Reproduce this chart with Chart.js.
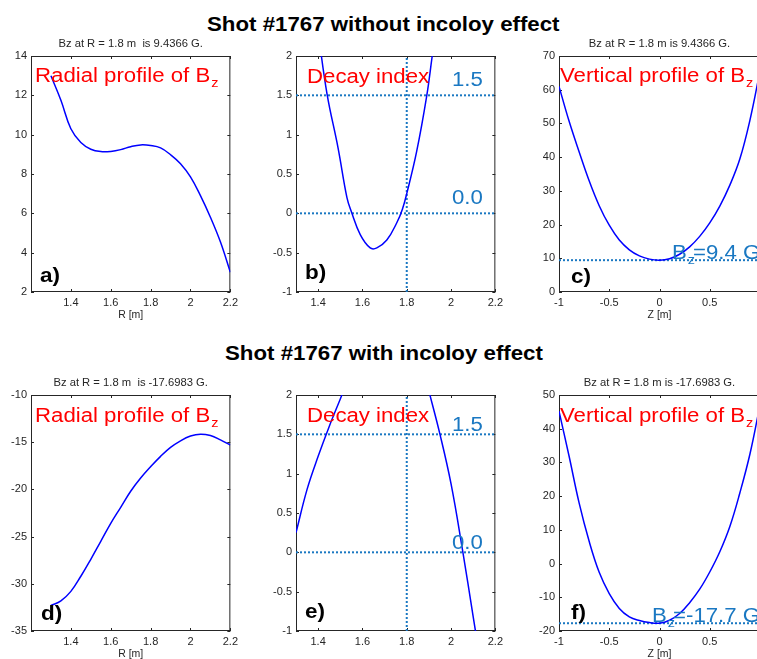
<!DOCTYPE html>
<html>
<head>
<meta charset="utf-8">
<title>Shot #1767 Bz profiles</title>
<script src="https://cdn.jsdelivr.net/npm/chart.js@4"></script>
<style>
  html, body { margin: 0; padding: 0; background: #fff; overflow: hidden; }
  body { width: 757px; height: 659px; position: relative; }
  .heading {
    position: absolute; left: 5px; width: 757px; text-align: center;
    font: bold 21px Arial, "Liberation Sans", sans-serif; line-height: 24px; color: #000;
  }
  .heading span { display: inline-block; transform: scaleX(1.06); }
  canvas { position: absolute; }
</style>
</head>
<body>
<div class="heading" style="top:12px"><span>Shot #1767 without incoloy effect</span></div>
<div class="heading" style="top:341px"><span>Shot #1767 with incoloy effect</span></div>

<canvas id="pa" width="242" height="288" style="left:0px;top:34px"></canvas>
<canvas id="pb" width="242" height="288" style="left:265px;top:34px"></canvas>
<canvas id="pc" width="242" height="288" style="left:528px;top:34px"></canvas>
<canvas id="pd" width="242" height="288" style="left:0px;top:373px"></canvas>
<canvas id="pe" width="242" height="288" style="left:265px;top:373px"></canvas>
<canvas id="pf" width="242" height="288" style="left:528px;top:373px"></canvas>

<script>
// radial grid (m) for the Bz radial profiles
const rGrid = [1.30, 1.35, 1.40, 1.45, 1.50, 1.55, 1.60, 1.65, 1.70, 1.75, 1.80, 1.85, 1.90, 1.95, 2.00, 2.05, 2.10, 2.15, 2.20];
const bzRadialNoIncoloy = [13.0, 11.75, 10.3, 9.6, 9.26, 9.14, 9.15, 9.24, 9.39, 9.48, 9.45, 9.33, 8.98, 8.52, 7.85, 6.9, 5.8, 4.55, 3.0];
const bzRadialIncoloy = [-32.3, -31.8, -30.8, -29.2, -27.4, -25.5, -23.6, -21.9, -20.2, -18.8, -17.6, -16.5, -15.55, -14.85, -14.35, -14.15, -14.3, -14.75, -15.3];

// decay index n(R)
const decayRNoIncoloy = [1.40, 1.44, 1.49, 1.53, 1.55, 1.59, 1.635, 1.665, 1.71, 1.755, 1.78, 1.80, 1.845, 1.89, 1.915, 1.94];
const decayNoIncoloy = [2.3, 1.52, 0.83, 0.2, 0.02, -0.27, -0.44, -0.44, -0.34, -0.12, 0.05, 0.25, 0.79, 1.49, 2.0, 2.5];
const decayRIncoloy = [1.30, 1.35, 1.40, 1.45, 1.50, 1.55, 1.60, 1.70, 1.80, 1.85, 1.90, 1.95, 2.00, 2.05, 2.10, 2.15];
const decayIncoloy = [0.25, 0.80, 1.22, 1.60, 1.95, 2.3, 2.6, 3.0, 3.0, 2.6, 2.05, 1.50, 0.87, 0.06, -0.82, -1.7];

// vertical grid (m) for the Bz vertical profiles at R = 1.8 m
const zGrid = [-1.0, -0.9, -0.8, -0.7, -0.6, -0.5, -0.4, -0.3, -0.2, -0.1, 0, 0.1, 0.2, 0.3, 0.4, 0.5, 0.6, 0.7, 0.8, 0.9, 1.0];
const bzVerticalNoIncoloy = [61.0, 50.7, 41.6, 33.0, 25.6, 19.8, 15.4, 12.5, 10.7, 9.75, 9.44, 9.85, 11.2, 13.4, 16.5, 20.5, 25.5, 31.7, 39.5, 51.0, 65.5];
const bzVerticalIncoloy = [45.2, 31.9, 18.0, 6.6, -2.6, -8.9, -13.3, -15.8, -16.9, -17.5, -17.7, -16.8, -14.8, -11.6, -7.6, -2.5, 3.5, 11.0, 21.0, 32.5, 47.0];

// reference values
const rMid = 1.8;
const bzMid = [9.4366, -17.6983];
const decayLevels = [1.5, 0.0];

// axis ticks
const rTicks = [1.4, 1.6, 1.8, 2, 2.2];
const zTicks = [-1, -0.5, 0, 0.5, 1];
const decayTicks = [-1, -0.5, 0, 0.5, 1, 1.5, 2];
const bzTicksA = [2, 4, 6, 8, 10, 12, 14];
const bzTicksC = [0, 10, 20, 30, 40, 50, 60, 70];
const bzTicksD = [-35, -30, -25, -20, -15, -10];
const bzTicksF = [-20, -10, 0, 10, 20, 30, 40, 50];

const AXIS = '#262626';
const CURVE = '#0000ff';
const DOT = '#1a78c2';
const RED = '#ff0000';
const FAMILY = 'Arial, "Liberation Sans", sans-serif';
const SX = 1.11;

Chart.defaults.font.family = FAMILY;
Chart.defaults.color = AXIS;
Chart.defaults.animation = false;

function stretched(ctx, str, x, y, font, color, sx, align) {
  ctx.save();
  ctx.font = font;
  ctx.fillStyle = color;
  ctx.textAlign = align || 'left';
  ctx.textBaseline = 'alphabetic';
  ctx.translate(x, y);
  ctx.scale(sx, 1);
  ctx.fillText(str, 0, 0);
  const w = ctx.measureText(str).width * sx;
  ctx.restore();
  return w;
}

// [main, subscript, tail] e.g. ['B', 'z', '=9.4 G']
function withSub(ctx, parts, x, y, color) {
  let cx = x;
  cx += stretched(ctx, parts[0], cx, y, '20px ' + FAMILY, color, SX);
  if (parts[1]) cx += stretched(ctx, parts[1], cx + 1, y + 5, '13px ' + FAMILY, color, SX);
  if (parts[2]) stretched(ctx, parts[2], cx - 1, y, '20px ' + FAMILY, color, SX);
}

function decorPlugin(p) {
  return {
    id: 'decor',
    beforeDatasetsDraw(chart) {
      const {ctx, chartArea: ca, scales: {x, y}} = chart;
      ctx.save();
      ctx.strokeStyle = AXIS;
      ctx.lineWidth = 1;
      ctx.strokeRect(ca.left + 0.5, ca.top + 0.5, ca.width - 1, ca.height - 1);
      // inward tick marks on all four sides
      ctx.beginPath();
      x.ticks.forEach(t => {
        const px = Math.round(x.getPixelForValue(t.value)) + 0.5;
        ctx.moveTo(px, ca.bottom); ctx.lineTo(px, ca.bottom - 3);
        ctx.moveTo(px, ca.top); ctx.lineTo(px, ca.top + 3);
      });
      y.ticks.forEach(t => {
        const py = Math.round(y.getPixelForValue(t.value)) + 0.5;
        ctx.moveTo(ca.left, py); ctx.lineTo(ca.left + 3, py);
        ctx.moveTo(ca.right, py); ctx.lineTo(ca.right - 3, py);
      });
      ctx.stroke();
      ctx.restore();
    },
    afterDatasetsDraw(chart) {
      const {ctx, chartArea: ca, scales: {y}} = chart;
      if (p.subtitle) {
        stretched(ctx, p.subtitle, (ca.left + ca.right) / 2, ca.top - 9,
          '10.5px ' + FAMILY, AXIS, 1.07, 'center');
      }
      withSub(ctx, p.heading, ca.left + p.headAt[0], ca.top + p.headAt[1], RED);
      p.marks.forEach(m => {
        withSub(ctx, m.parts, ca.left + m.dx, y.getPixelForValue(m.value) + m.dy, DOT);
      });
      stretched(ctx, p.letter, ca.left + p.letterAt[0], ca.top + p.letterAt[1],
        'bold 21px ' + FAMILY, '#000', 1.07);
    }
  };
}

function makePanel(id, p) {
  const datasets = [{
    data: p.xs.map((x, i) => ({x, y: p.ys[i]})),
    borderColor: CURVE,
    borderWidth: 1.5,
    pointRadius: 0,
    tension: 0.4,
    fill: false
  }];
  const dotted = {borderColor: DOT, borderWidth: 2, borderDash: [2, 2], pointRadius: 0, tension: 0, fill: false};
  (p.hLines || []).forEach(v => datasets.push(Object.assign({
    data: [{x: p.xRange[0], y: v}, {x: p.xRange[1], y: v}]
  }, dotted)));
  (p.vLines || []).forEach(v => datasets.push(Object.assign({
    data: [{x: v, y: p.yRange[0]}, {x: v, y: p.yRange[1]}]
  }, dotted)));

  const tickFont = {size: 11};
  new Chart(document.getElementById(id), {
    type: 'line',
    data: {datasets},
    options: {
      responsive: false,
      animation: false,
      layout: {padding: {top: 22, right: 10, bottom: 0, left: 0}},
      plugins: {legend: {display: false}, tooltip: {enabled: false}},
      scales: {
        x: {
          type: 'linear',
          min: p.xRange[0],
          max: p.xRange[1],
          afterBuildTicks: s => { s.ticks = p.xTicks.map(v => ({value: v})); },
          afterFit: s => { s.height = 30; },
          grid: {display: false, drawTicks: false},
          border: {display: false},
          ticks: {padding: 4, maxRotation: 0, autoSkip: false, font: tickFont, color: AXIS,
                  callback: v => String(v)},
          title: {display: !!p.xTitle, text: p.xTitle || '', font: {size: 10.5}, color: AXIS,
                  padding: {top: 0, bottom: 1}}
        },
        y: {
          type: 'linear',
          min: p.yRange[0],
          max: p.yRange[1],
          afterBuildTicks: s => { s.ticks = p.yTicks.map(v => ({value: v})); },
          afterFit: s => { s.width = 31; },
          grid: {display: false, drawTicks: false},
          border: {display: false},
          ticks: {padding: 4, autoSkip: false, font: tickFont, color: AXIS,
                  callback: v => String(v)}
        }
      }
    },
    plugins: [decorPlugin(p)]
  });
}

const decayMarks = dy => decayLevels.map(v => ({value: v, parts: [v.toFixed(1)], dx: 156, dy}));
const bzMark = (v, dx) => [{value: v, parts: ['B', 'z', '=' + v.toFixed(1) + ' G'], dx, dy: -1}];

makePanel('pa', {
  xs: rGrid, ys: bzRadialNoIncoloy,
  xRange: [1.2, 2.2], xTicks: rTicks, xTitle: 'R [m]',
  yRange: [2, 14], yTicks: bzTicksA,
  subtitle: `Bz at R = ${rMid} m  is ${bzMid[0].toFixed(4)} G.`,
  heading: ['Radial profile of B', 'z'], headAt: [4, 26],
  letter: 'a)', letterAt: [9, 226], marks: []
});
makePanel('pb', {
  xs: decayRNoIncoloy, ys: decayNoIncoloy,
  xRange: [1.3, 2.2], xTicks: rTicks,
  yRange: [-1, 2], yTicks: decayTicks,
  hLines: decayLevels, vLines: [rMid],
  heading: ['Decay index'], headAt: [11, 27],
  letter: 'b)', letterAt: [9, 223], marks: decayMarks(-9.5)
});
makePanel('pc', {
  xs: zGrid, ys: bzVerticalNoIncoloy,
  xRange: [-1, 1], xTicks: zTicks, xTitle: 'Z [m]',
  yRange: [0, 70], yTicks: bzTicksC,
  hLines: [bzMid[0]],
  subtitle: `Bz at R = ${rMid} m is ${bzMid[0].toFixed(4)} G.`,
  heading: ['Vertical profile of B', 'z'], headAt: [1, 26],
  letter: 'c)', letterAt: [12, 227], marks: bzMark(bzMid[0], 113)
});
makePanel('pd', {
  xs: rGrid, ys: bzRadialIncoloy,
  xRange: [1.2, 2.2], xTicks: rTicks, xTitle: 'R [m]',
  yRange: [-35, -10], yTicks: bzTicksD,
  subtitle: `Bz at R = ${rMid} m  is ${bzMid[1].toFixed(4)} G.`,
  heading: ['Radial profile of B', 'z'], headAt: [4, 27],
  letter: 'd)', letterAt: [10, 225], marks: []
});
makePanel('pe', {
  xs: decayRIncoloy, ys: decayIncoloy,
  xRange: [1.3, 2.2], xTicks: rTicks,
  yRange: [-1, 2], yTicks: decayTicks,
  hLines: decayLevels, vLines: [rMid],
  heading: ['Decay index'], headAt: [11, 27],
  letter: 'e)', letterAt: [9, 223], marks: decayMarks(-3)
});
makePanel('pf', {
  xs: zGrid, ys: bzVerticalIncoloy,
  xRange: [-1, 1], xTicks: zTicks, xTitle: 'Z [m]',
  yRange: [-20, 50], yTicks: bzTicksF,
  hLines: [bzMid[1]],
  subtitle: `Bz at R = ${rMid} m is ${bzMid[1].toFixed(4)} G.`,
  heading: ['Vertical profile of B', 'z'], headAt: [1, 27],
  letter: 'f)', letterAt: [12, 224], marks: bzMark(bzMid[1], 93)
});
</script>
</body>
</html>
